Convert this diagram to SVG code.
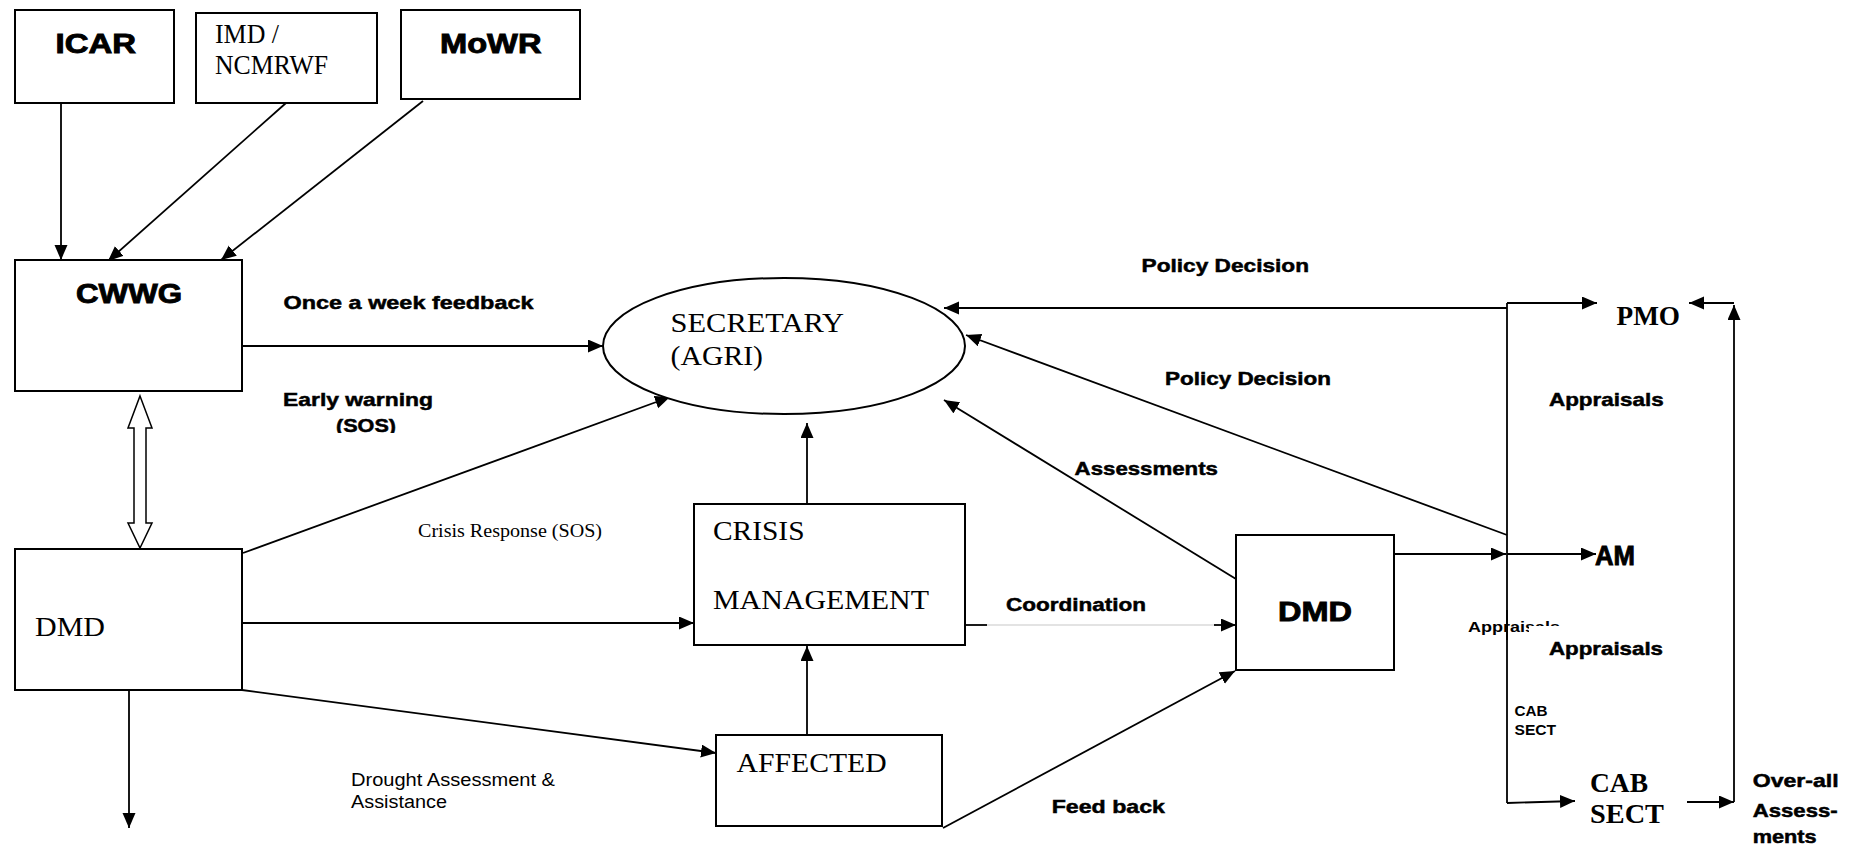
<svg xmlns="http://www.w3.org/2000/svg" width="1853" height="848" viewBox="0 0 1853 848">
<defs>
<marker id="ah" markerUnits="userSpaceOnUse" markerWidth="16" markerHeight="14" refX="15" refY="6.5" orient="auto">
<path d="M0,0 L15,6.5 L0,13 z" fill="#000"/>
</marker>
<clipPath id="sosclip"><rect x="300" y="400" width="150" height="33"/></clipPath>
</defs>
<style>
.box{fill:#fff;stroke:#000;stroke-width:2}
.ln{fill:none;stroke:#000;stroke-width:1.8}
.arr{fill:none;stroke:#000;stroke-width:1.8;marker-end:url(#ah)}
.hb{font-family:"Liberation Sans",Arial,sans-serif;font-weight:bold;font-size:27px;fill:#000;stroke:#000;stroke-width:0.9}
.lb{font-family:"Liberation Sans",Arial,sans-serif;font-weight:bold;font-size:19px;fill:#000;stroke:#000;stroke-width:0.5}
.sb{font-family:"Liberation Sans",Arial,sans-serif;font-weight:bold;font-size:15px;fill:#000}
.sr{font-family:"Liberation Serif","Times New Roman",serif;font-size:28px;fill:#000}
.srb{font-family:"Liberation Serif","Times New Roman",serif;font-weight:bold;font-size:28px;fill:#000}
.sm{font-family:"Liberation Serif","Times New Roman",serif;font-size:19px;fill:#000}
.sa{font-family:"Liberation Sans",Arial,sans-serif;font-size:18px;fill:#000}
</style>
<rect width="1853" height="848" fill="#fff"/>

<g id="connectors">
<line class="arr" x1="61" y1="103" x2="61" y2="260"/>
<line class="arr" x1="286" y1="103" x2="108" y2="261"/>
<line class="arr" x1="423" y1="101" x2="221" y2="260"/>
<line class="arr" x1="242" y1="346" x2="603" y2="346"/>
<line class="arr" x1="243" y1="553" x2="670" y2="397"/>
<line class="arr" x1="807" y1="504" x2="807" y2="423"/>
<line class="arr" x1="242" y1="623" x2="694" y2="623"/>
<line class="arr" x1="242" y1="690" x2="716" y2="753"/>
<line class="arr" x1="129" y1="690" x2="129" y2="828"/>
<line class="arr" x1="807" y1="735" x2="807" y2="646"/>
<line class="ln" x1="965" y1="625" x2="987" y2="625"/>
<line x1="987" y1="625" x2="1216" y2="625" stroke="#c8c8c8" stroke-width="1.2"/>
<line class="arr" x1="1214" y1="625" x2="1236" y2="625"/>
<line class="arr" x1="943" y1="828" x2="1235" y2="671"/>
<line class="arr" x1="1236" y1="579" x2="944" y2="400"/>
<line class="arr" x1="1507" y1="535" x2="966" y2="335"/>
<line class="arr" x1="1507" y1="308" x2="944" y2="308"/>
<line class="ln" x1="1507" y1="303" x2="1507" y2="803"/>
<line class="arr" x1="1507" y1="303" x2="1597" y2="303"/>
<line class="arr" x1="1394" y1="554" x2="1506" y2="554"/>
<line class="arr" x1="1507" y1="554" x2="1596" y2="554"/>
<line class="arr" x1="1507" y1="803" x2="1575" y2="801"/>
<line class="arr" x1="1687" y1="802" x2="1734" y2="802"/>
<line class="arr" x1="1734" y1="802" x2="1734" y2="305"/>
<line class="arr" x1="1734" y1="303" x2="1689" y2="303"/>
<polygon points="140,396 152,428 146,428 146,523 152,523 140,548 128,523 134,523 134,428 128,428" fill="#fff" stroke="#000" stroke-width="1.5"/>
</g>

<g id="icar">
<rect class="box" x="15" y="10" width="159" height="93"/>
<text class="hb" x="55.5" y="53" textLength="80.5" lengthAdjust="spacingAndGlyphs">ICAR</text>
</g>
<g id="imd">
<rect class="box" x="196" y="13" width="181" height="90"/>
<text class="sr" x="215" y="43" font-size="20" textLength="64" lengthAdjust="spacingAndGlyphs">IMD /</text>
<text class="sr" x="215" y="74" font-size="20" textLength="113" lengthAdjust="spacingAndGlyphs">NCMRWF</text>
</g>
<g id="mowr">
<rect class="box" x="401" y="10" width="179" height="89"/>
<text class="hb" x="440" y="53" textLength="101.5" lengthAdjust="spacingAndGlyphs">MoWR</text>
</g>
<g id="cwwg">
<rect class="box" x="15" y="260" width="227" height="131"/>
<text class="hb" x="76" y="303" textLength="106" lengthAdjust="spacingAndGlyphs">CWWG</text>
</g>
<g id="dmd-left">
<rect class="box" x="15" y="549" width="227" height="141"/>
<text class="sr" x="35" y="636" textLength="70" lengthAdjust="spacingAndGlyphs">DMD</text>
</g>
<g id="secretary">
<ellipse cx="784" cy="346" rx="181" ry="68" fill="#fff" stroke="#000" stroke-width="2"/>
<text class="sr" x="670.6" y="331.7" textLength="173.4" lengthAdjust="spacingAndGlyphs">SECRETARY</text>
<text class="sr" x="670.6" y="365" textLength="92.4" lengthAdjust="spacingAndGlyphs">(AGRI)</text>
</g>
<g id="crisis-management">
<rect class="box" x="694" y="504" width="271" height="141"/>
<text class="sr" x="713" y="540" textLength="91.5" lengthAdjust="spacingAndGlyphs">CRISIS</text>
<text class="sr" x="713" y="609" textLength="216" lengthAdjust="spacingAndGlyphs">MANAGEMENT</text>
</g>
<g id="affected">
<rect class="box" x="716" y="735" width="226" height="91"/>
<text class="sr" x="736.6" y="771.7" textLength="150" lengthAdjust="spacingAndGlyphs">AFFECTED</text>
</g>
<g id="dmd-right">
<rect class="box" x="1236" y="535" width="158" height="135"/>
<text class="hb" x="1278" y="620.7" font-size="28" textLength="74" lengthAdjust="spacingAndGlyphs">DMD</text>
</g>
<g id="pmo">
<text class="srb" x="1616.5" y="325" textLength="63.5" lengthAdjust="spacingAndGlyphs">PMO</text>
</g>
<g id="am">
<text class="hb" x="1595" y="565" font-size="25" textLength="40" lengthAdjust="spacingAndGlyphs">AM</text>
</g>
<g id="cab-sect">
<text class="srb" x="1590" y="791.7" font-size="27" textLength="58" lengthAdjust="spacingAndGlyphs">CAB</text>
<text class="srb" x="1590" y="823" font-size="27" textLength="74" lengthAdjust="spacingAndGlyphs">SECT</text>
</g>

<g id="labels">
<text class="lb" x="283.5" y="309.3" textLength="250" lengthAdjust="spacingAndGlyphs">Once a week feedback</text>
<text class="lb" x="283" y="406" font-size="20" textLength="150" lengthAdjust="spacingAndGlyphs">Early warning</text>
<text class="lb" x="336" y="432" font-size="20" textLength="60" lengthAdjust="spacingAndGlyphs" clip-path="url(#sosclip)">(SOS)</text>
<text class="sm" x="418" y="537" textLength="184" lengthAdjust="spacingAndGlyphs">Crisis Response (SOS)</text>
<text class="sa" x="351" y="786" textLength="204" lengthAdjust="spacingAndGlyphs">Drought Assessment &amp;</text>
<text class="sa" x="351" y="808" textLength="96" lengthAdjust="spacingAndGlyphs">Assistance</text>
<text class="lb" x="1141.6" y="271.7" textLength="167.4" lengthAdjust="spacingAndGlyphs">Policy Decision</text>
<text class="lb" x="1165" y="385" textLength="166" lengthAdjust="spacingAndGlyphs">Policy Decision</text>
<text class="lb" x="1074.6" y="475" textLength="143.4" lengthAdjust="spacingAndGlyphs">Assessments</text>
<text class="lb" x="1006" y="610.7" textLength="140" lengthAdjust="spacingAndGlyphs">Coordination</text>
<text class="lb" x="1051.7" y="813" textLength="113.3" lengthAdjust="spacingAndGlyphs">Feed back</text>
<text class="lb" x="1549" y="406" textLength="114.6" lengthAdjust="spacingAndGlyphs">Appraisals</text>
<text class="sb" x="1468" y="631.7" textLength="92" lengthAdjust="spacingAndGlyphs">Appraisals</text>
<rect x="1529" y="626" width="140" height="36" fill="#fff"/>
<line class="ln" x1="1507" y1="610" x2="1507" y2="640"/>
<text class="lb" x="1549" y="655" textLength="114" lengthAdjust="spacingAndGlyphs">Appraisals</text>
<text class="sb" x="1514.5" y="716" font-size="14" textLength="33" lengthAdjust="spacingAndGlyphs">CAB</text>
<text class="sb" x="1514.5" y="735" font-size="14" textLength="41.6" lengthAdjust="spacingAndGlyphs">SECT</text>
<text class="lb" x="1752.7" y="787" font-size="18" textLength="86" lengthAdjust="spacingAndGlyphs">Over-all</text>
<text class="lb" x="1752.7" y="816.7" font-size="18" textLength="85" lengthAdjust="spacingAndGlyphs">Assess-</text>
<text class="lb" x="1752.7" y="842.7" font-size="18" textLength="64" lengthAdjust="spacingAndGlyphs">ments</text>
</g>
</svg>
